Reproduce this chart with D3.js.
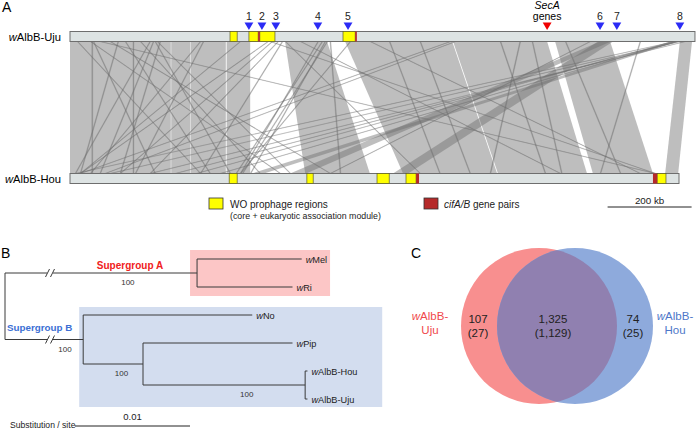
<!DOCTYPE html>
<html>
<head>
<meta charset="utf-8">
<script src="https://cdn.jsdelivr.net/npm/d3@7"></script>
<style>
  body { margin: 0; background: #fff; }
  svg { display: block; font-family: "Liberation Sans", Arial, sans-serif; }
</style>
</head>
<body>
<script>
const width = 696;
const height = 430;

// ---- panel A data (positions in kb) ----
const ujuLength = 1488;
const houLength = 1450;
// [uju start, uju end, hou start, hou end]
const collinearBlocks = [
  [0, 240, 0, 240], [241, 286, 241, 286], [287, 371, 287, 371],
  [373, 429, 373, 429], [512, 612, 560, 714], [655, 910, 793, 1017],
  [912, 1136, 1019, 1231], [1155, 1286, 1245, 1388], [1452, 1481, 1417, 1448]
];
const rearrangedBlocks = [
  [1429, 1448, 433, 462], [1257, 1293, 769, 805], [1262, 1288, 524, 562]
];
const smallBlocks = [
  [17, 310], [55, 202], [114, 24], [131, 333], [190, 12], [198, 71], [202, 381],
  [207, 524], [214, 119], [310, 48], [317, 155], [167, 452], [95, 619], [48, 500],
  [476, 1393], [71, 1393], [471, 24], [481, 119], [495, 190], [505, 310], [590, 405],
  [607, 429], [619, 643], [714, 1357], [905, 24], [917, 83], [1440, 12], [1452, 95],
  [1464, 190], [1443, 357], [1071, 1000], [1238, 619], [548, 1167], [512, 833],
  [405, 24], [667, 405], [1357, 1262], [833, 952], [1024, 1131], [1179, 1310],
  [600, 395], [612, 410], [1446, 250], [1436, 300], [760, 880], [1100, 1170],
  [52, 52], [150, 150]
];
const ujuWO = [[381, 398], [426, 448], [452, 488], [650, 679]];
const ujuCif = [[448, 452], [679, 683]];
const houWO = [[379, 398], [564, 579], [731, 760], [800, 824], [1398, 1419]];
const houCif = [[824, 831], [1388, 1398]];
const markerLabels = ["1", "2", "3", "4", "5", "6", "7", "8"];
const markerPos = [426, 457, 490, 590, 662, 1262, 1302, 1452];
const secAPos = 1136;
const scaleBarKb = 200;

// ---- panel B data ----
const treeIds = ["root", "A", "B", "wMel", "wRi", "wNo", "B1", "wPip", "B2", "wAlbB-Hou", "wAlbB-Uju"];
const treeParents = [null, "root", "root", "A", "A", "B", "B", "B1", "B1", "B2", "B2"];
const treeLengths = [0, 0.0167, 0.0068, 0.0091, 0.0083, 0.0147, 0.0052, 0.0130, 0.0141, 0.0002, 0.0002];
const bootstrap = { A: 100, B: 100, B1: 100, B2: 100 };

// ---- panel C data ----
const vennNames = ["Uju", "Hou"];
const vennCounts = [107, 1325, 74];
const vennCore = [27, 1129, 25];

const svg = d3.select("body").append("svg")
  .attr("width", width).attr("height", height);

// ================= Panel A =================
const x = d3.scaleLinear().domain([0, 1000]).range([70, 490]);
const yTop = 31.5, yBot = 173.5, barH = 10;

svg.append("text").attr("x", 2).attr("y", 12).attr("font-size", 14).text("A");

const ribbons = svg.append("g");
function ribbon(d) {
  return "M" + x(d[0]) + "," + (yTop + barH) + "L" + x(d[1]) + "," + (yTop + barH) +
    "L" + x(d[3]) + "," + yBot + "L" + x(d[2]) + "," + yBot + "Z";
}
const ribbonFill = "rgba(110,110,110,0.45)";
ribbons.selectAll("path.blk")
  .data(collinearBlocks.concat(rearrangedBlocks))
  .join("path")
  .attr("d", ribbon)
  .attr("fill", ribbonFill);
ribbons.selectAll("path.small")
  .data(smallBlocks.map(d => [d[0], d[0] + 2, d[1], d[1] + 2]))
  .join("path")
  .attr("class", "small")
  .attr("d", ribbon)
  .attr("fill", ribbonFill)
  .attr("stroke", "rgba(110,110,110,0.5)")
  .attr("stroke-width", 0.5);

function genomeBar(y, len, wo, cif, label) {
  const g = svg.append("g");
  g.append("rect").attr("x", x(0)).attr("y", y).attr("width", x(len) - x(0)).attr("height", barH)
    .attr("fill", "#dde3e3").attr("stroke", "#6e6e6e").attr("stroke-width", 1);
  g.selectAll("rect.wo").data(wo).join("rect")
    .attr("x", d => x(d[0])).attr("y", y).attr("width", d => x(d[1]) - x(d[0])).attr("height", barH)
    .attr("fill", "#ffff00").attr("stroke", "#5a5a2a").attr("stroke-width", 0.7);
  g.selectAll("rect.cif").data(cif).join("rect")
    .attr("x", d => x(d[0])).attr("y", y).attr("width", d => x(d[1]) - x(d[0])).attr("height", barH)
    .attr("fill", "#b52a2a");
  const t = g.append("text").attr("x", 61).attr("y", y + 9).attr("text-anchor", "end").attr("font-size", 11.2);
  t.append("tspan").attr("font-style", "italic").text("w");
  t.append("tspan").text(label);
}
genomeBar(yTop, ujuLength, ujuWO, ujuCif, "AlbB-Uju");
genomeBar(yBot, houLength, houWO, houCif, "AlbB-Hou");

// markers
const tri = d3.symbol().type(d3.symbolTriangle).size(34);
svg.selectAll("path.mark").data(markerPos).join("path")
  .attr("transform", d => "translate(" + x(d) + ",25) rotate(180)")
  .attr("d", tri).attr("fill", "#2b2bf5");
svg.selectAll("text.mark").data(markerPos).join("text")
  .attr("x", d => x(d)).attr("y", 20).attr("text-anchor", "middle").attr("font-size", 10.5)
  .attr("fill", "#222").text((d, i) => markerLabels[i]);
svg.append("path").attr("transform", "translate(" + x(secAPos) + ",25) rotate(180)")
  .attr("d", tri).attr("fill", "#f00000");
svg.append("text").attr("x", x(secAPos)).attr("y", 9).attr("text-anchor", "middle")
  .attr("font-size", 10.5).attr("font-style", "italic").text("SecA");
svg.append("text").attr("x", x(secAPos)).attr("y", 20).attr("text-anchor", "middle")
  .attr("font-size", 10.5).text("genes");

// legend
svg.append("rect").attr("x", 209).attr("y", 198).attr("width", 14).attr("height", 11)
  .attr("fill", "#ffff00").attr("stroke", "#333").attr("stroke-width", 0.8);
svg.append("text").attr("x", 230).attr("y", 208).attr("font-size", 10).attr("fill", "#222").text("WO prophage regions");
svg.append("text").attr("x", 230).attr("y", 219).attr("font-size", 8.8).attr("fill", "#222").text("(core + eukaryotic association module)");
svg.append("rect").attr("x", 424).attr("y", 198).attr("width", 14).attr("height", 11)
  .attr("fill", "#b52a2a").attr("stroke", "#333").attr("stroke-width", 0.8);
const cifT = svg.append("text").attr("x", 444).attr("y", 208).attr("font-size", 10).attr("fill", "#222");
cifT.append("tspan").attr("font-style", "italic").text("cifA/B");
cifT.append("tspan").text(" gene pairs");
svg.append("line").attr("x1", x(1280)).attr("x2", x(1280 + scaleBarKb)).attr("y1", 207).attr("y2", 207)
  .attr("stroke", "#222").attr("stroke-width", 1);
svg.append("text").attr("x", x(1280 + scaleBarKb / 2)).attr("y", 204).attr("text-anchor", "middle")
  .attr("font-size", 9.8).attr("fill", "#222").text(scaleBarKb + " kb");

// ================= Panel B =================
svg.append("text").attr("x", 1).attr("y", 258).attr("font-size", 14).text("B");

const table = treeIds.map((id, i) => ({ id: id, parent: treeParents[i], len: treeLengths[i] }));
const root = d3.stratify().id(d => d.id).parentId(d => d.parent)(table);
root.eachBefore(n => { n.dist = (n.parent ? n.parent.dist : 0) + n.data.len; });
const xt = d3.scaleLinear().domain([0, 0.01]).range([5, 120]);
const leafY = d3.scalePoint().domain(root.leaves().map(d => d.id)).range([259, 399]);
root.eachAfter(n => {
  n.py = n.children ? (n.children[0].py + n.children[n.children.length - 1].py) / 2 : leafY(n.id);
});

const nodeA = root.descendants().find(n => n.id === "A");
const nodeB = root.descendants().find(n => n.id === "B");
svg.append("rect").attr("x", xt(nodeA.dist) - 7).attr("y", 250).attr("width", 140).attr("height", 46)
  .attr("fill", "#fcc6c6");
svg.append("rect").attr("x", xt(nodeB.dist) - 4).attr("y", 307).attr("width", 303).attr("height", 100)
  .attr("fill", "#d3ddef");

const tree = svg.append("g").attr("stroke", "#3a3a3a").attr("stroke-width", 1).attr("fill", "none");
root.descendants().forEach(n => {
  if (n.parent) {
    tree.append("line").attr("x1", xt(n.parent.dist)).attr("x2", xt(n.dist))
      .attr("y1", n.py).attr("y2", n.py);
  }
  if (n.children) {
    tree.append("line").attr("x1", xt(n.dist)).attr("x2", xt(n.dist))
      .attr("y1", n.children[0].py).attr("y2", n.children[n.children.length - 1].py);
  }
});
// broken branches
[nodeA, nodeB].forEach(n => {
  const bx = 50;
  svg.append("rect").attr("x", bx - 3).attr("y", n.py - 2).attr("width", 6).attr("height", 4).attr("fill", "#fff");
  [-2.5, 2.5].forEach(o => {
    svg.append("line").attr("x1", bx + o - 2).attr("y1", n.py + 4).attr("x2", bx + o + 2).attr("y2", n.py - 4)
      .attr("stroke", "#3a3a3a").attr("stroke-width", 1);
  });
});
// bootstrap values
root.descendants().filter(n => bootstrap[n.id]).forEach(n => {
  const x1 = xt(n.dist), x0 = xt(n.parent.dist);
  let bx = x1 - 0.36 * (x1 - x0);
  if (n.id === "B") bx = 65;
  svg.append("text").attr("x", bx).attr("y", n.py + 12).attr("text-anchor", "middle")
    .attr("font-size", 8).attr("fill", "#333").text(bootstrap[n.id]);
});
// tips
root.leaves().forEach(n => {
  const t = svg.append("text").attr("x", xt(n.dist) + 4).attr("y", n.py + 3.5)
    .attr("font-size", 9.2).attr("fill", "#222");
  t.append("tspan").attr("font-style", "italic").text("w");
  t.append("tspan").text(n.id.slice(1));
});
svg.append("text").attr("x", 130).attr("y", 269).attr("text-anchor", "middle").attr("font-size", 10)
  .attr("font-weight", "bold").attr("fill", "#f02020").text("Supergroup A");
svg.append("text").attr("x", 7).attr("y", 331).attr("font-size", 9.8)
  .attr("font-weight", "bold").attr("fill", "#3b6fd4").text("Supergroup B");
// scale bar
svg.append("text").attr("x", 10).attr("y", 428).attr("font-size", 8.6).attr("fill", "#222").text("Substitution / site");
svg.append("line").attr("x1", xt(0) + 70).attr("x2", xt(0.01) + 70).attr("y1", 426).attr("y2", 426)
  .attr("stroke", "#222");
svg.append("text").attr("x", (xt(0) + xt(0.01)) / 2 + 70).attr("y", 420).attr("text-anchor", "middle")
  .attr("font-size", 9.5).attr("fill", "#222").text("0.01");

// ================= Panel C =================
svg.append("text").attr("x", 411).attr("y", 258).attr("font-size", 14).text("C");
const cy = 326, r = 78;
const cx = [539, 575];
const defs = svg.append("defs");
defs.append("clipPath").attr("id", "clipB").append("circle").attr("cx", cx[1]).attr("cy", cy).attr("r", r);
svg.append("circle").attr("cx", cx[0]).attr("cy", cy).attr("r", r).attr("fill", "#f88f8f");
svg.append("circle").attr("cx", cx[1]).attr("cy", cy).attr("r", r).attr("fill", "#8eaadc");
svg.append("circle").attr("cx", cx[0]).attr("cy", cy).attr("r", r).attr("fill", "#9080b0")
  .attr("clip-path", "url(#clipB)");

const fmt = d3.format(",");
const numX = [478, 553, 633];
vennCounts.forEach((v, i) => {
  svg.append("text").attr("x", numX[i]).attr("y", 323).attr("text-anchor", "middle").attr("font-size", 11.5)
    .attr("fill", "#222").text(fmt(v));
  svg.append("text").attr("x", numX[i]).attr("y", 337).attr("text-anchor", "middle").attr("font-size", 11.5)
    .attr("fill", "#222").text("(" + fmt(vennCore[i]) + ")");
});
const nameX = [430, 675];
const nameColor = ["#f0484c", "#4e77c9"];
vennNames.forEach((nm, i) => {
  const t = svg.append("text").attr("x", nameX[i]).attr("y", 320).attr("text-anchor", "middle")
    .attr("font-size", 11.5).attr("fill", nameColor[i]);
  t.append("tspan").attr("font-style", "italic").text("w");
  t.append("tspan").text("AlbB-");
  svg.append("text").attr("x", nameX[i]).attr("y", 334).attr("text-anchor", "middle")
    .attr("font-size", 11.5).attr("fill", nameColor[i]).text(nm);
});
</script>
</body>
</html>
